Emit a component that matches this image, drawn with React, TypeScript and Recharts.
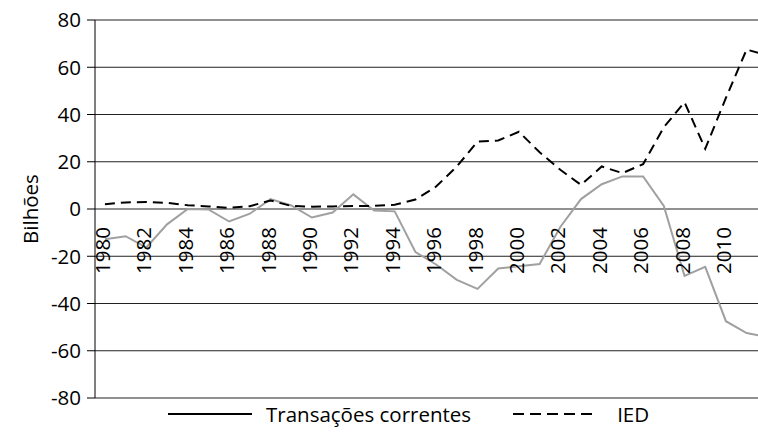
import { LineChart, Line, XAxis, YAxis, CartesianGrid, Legend, ReferenceDot } from "recharts";

const years = [
  1980, 1981, 1982, 1983, 1984, 1985, 1986, 1987, 1988, 1989, 1990, 1991, 1992,
  1993, 1994, 1995, 1996, 1997, 1998, 1999, 2000, 2001, 2002, 2003, 2004, 2005,
  2006, 2007, 2008, 2009, 2010, 2011, 2012,
];
const transacoes = [
  -12.8, -11.5, -16.3, -6.5, 0, -0.2, -5.3, -2, 4.2, 1.5, -3.6, -1.5, 6.2, -0.6,
  -1, -18.2, -23.5, -30, -33.8, -25.2, -24.2, -23.3, -7.6, 4.2, 10.5, 13.8,
  13.8, 1.3, -28.3, -24.5, -47.5, -52.5, -54.2,
];
const ied = [
  2, 2.8, 3, 2.6, 1.6, 1.1, 0.5, 1.2, 3.6, 1.3, 1, 1.1, 1.3, 1.3, 1.8, 4, 9.5,
  18, 28.5, 29, 32.7, 24, 16.6, 10.2, 18, 15.2, 19, 34.6, 45.2, 25.5, 47, 67.5,
  65,
];
const yearTicks = [
  1980, 1982, 1984, 1986, 1988, 1990, 1992, 1994, 1996, 1998, 2000, 2002, 2004,
  2006, 2008, 2010,
];
const valueTicks = [-80, -60, -40, -20, 0, 20, 40, 60, 80];

const data = years.map((year, i) => ({
  year,
  tc: transacoes[i],
  ied: ied[i],
}));

const W = 758;
const H = 432;
const TOP = 20;
const FS = 20.5;
const FONT = "'Open Sans', 'Noto Sans', sans-serif";

// year labels hang from the zero line, read bottom-to-top
const yearLabel = (year: number) => (p: any) => {
  const vb = p.viewBox;
  const cx = vb.x + vb.width / 2 - 3;
  const cy = vb.y + vb.height / 2 + 18;
  return (
    <text
      x={-cy}
      y={cx}
      transform="rotate(-90)"
      textAnchor="end"
      dominantBaseline="central"
      fontSize={FS}
      fontFamily={FONT}
      fill="#000"
    >
      {year}
    </text>
  );
};

const LegendBox = () => (
  <div
    style={{
      display: "flex",
      alignItems: "center",
      height: 30,
      paddingLeft: 168,
      fontFamily: FONT,
      fontSize: FS,
      color: "#000",
      whiteSpace: "nowrap",
    }}
  >
    <svg width={84} height={10}>
      <line x1={0} y1={5} x2={84} y2={5} stroke="#000" strokeWidth={2} />
    </svg>
    <span style={{ marginLeft: 14, marginRight: 42 }}>Transações correntes</span>
    <svg width={84} height={10}>
      <line
        x1={0}
        y1={5}
        x2={84}
        y2={5}
        stroke="#000"
        strokeWidth={2}
        strokeDasharray="11 6"
      />
    </svg>
    <span style={{ marginLeft: 20 }}>IED</span>
  </div>
);

export default function App() {
  return (
    <div
      style={{
        position: "absolute",
        left: 0,
        top: 0,
        width: W,
        height: H,
        overflow: "hidden",
        background: "#fff",
      }}
    >
      <LineChart
        width={W}
        height={H}
        data={data}
        margin={{ top: TOP, right: 0, left: 0, bottom: 3 }}
      >
        <CartesianGrid vertical={false} stroke="#222" strokeWidth={1} />
        <XAxis
          dataKey="year"
          type="number"
          domain={[1979.52, 2011.55]}
          allowDataOverflow
          ticks={yearTicks}
          axisLine={false}
          tickLine={false}
          tick={false}
          height={1}
        />
        <YAxis
          domain={[-80, 80]}
          ticks={valueTicks}
          width={95}
          tickSize={8}
          tickMargin={6}
          axisLine={{ stroke: "#000" }}
          tickLine={{ stroke: "#000" }}
          tick={{ fill: "#000", fontSize: FS, fontFamily: FONT }}
          label={{
            content: (p: any) => {
              const vb = p.viewBox;
              const cx = vb.x + 30;
              const cy = vb.y + vb.height / 2;
              return (
                <g transform={`translate(${cx},${cy}) rotate(-90)`}>
                  <text
                    x={0}
                    y={0}
                    textAnchor="middle"
                    dominantBaseline="central"
                    fontSize={FS}
                    fontFamily={FONT}
                    fill="#000"
                  >
                    Bilhões
                  </text>
                </g>
              );
            },
          }}
        />
        <Legend verticalAlign="bottom" height={30} content={<LegendBox />} />
        <Line
          type="linear"
          dataKey="tc"
          stroke="#a0a0a0"
          strokeWidth={2}
          dot={false}
          isAnimationActive={false}
        />
        <Line
          type="linear"
          dataKey="ied"
          stroke="#000"
          strokeWidth={2}
          strokeDasharray="10 6"
          dot={false}
          isAnimationActive={false}
        />
        {yearTicks.map((yr) => (
          <ReferenceDot
            key={yr}
            x={yr}
            y={0}
            r={0}
            fill="none"
            stroke="none"
            ifOverflow="visible"
            label={{ content: yearLabel(yr) }}
          />
        ))}
      </LineChart>
    </div>
  );
}
